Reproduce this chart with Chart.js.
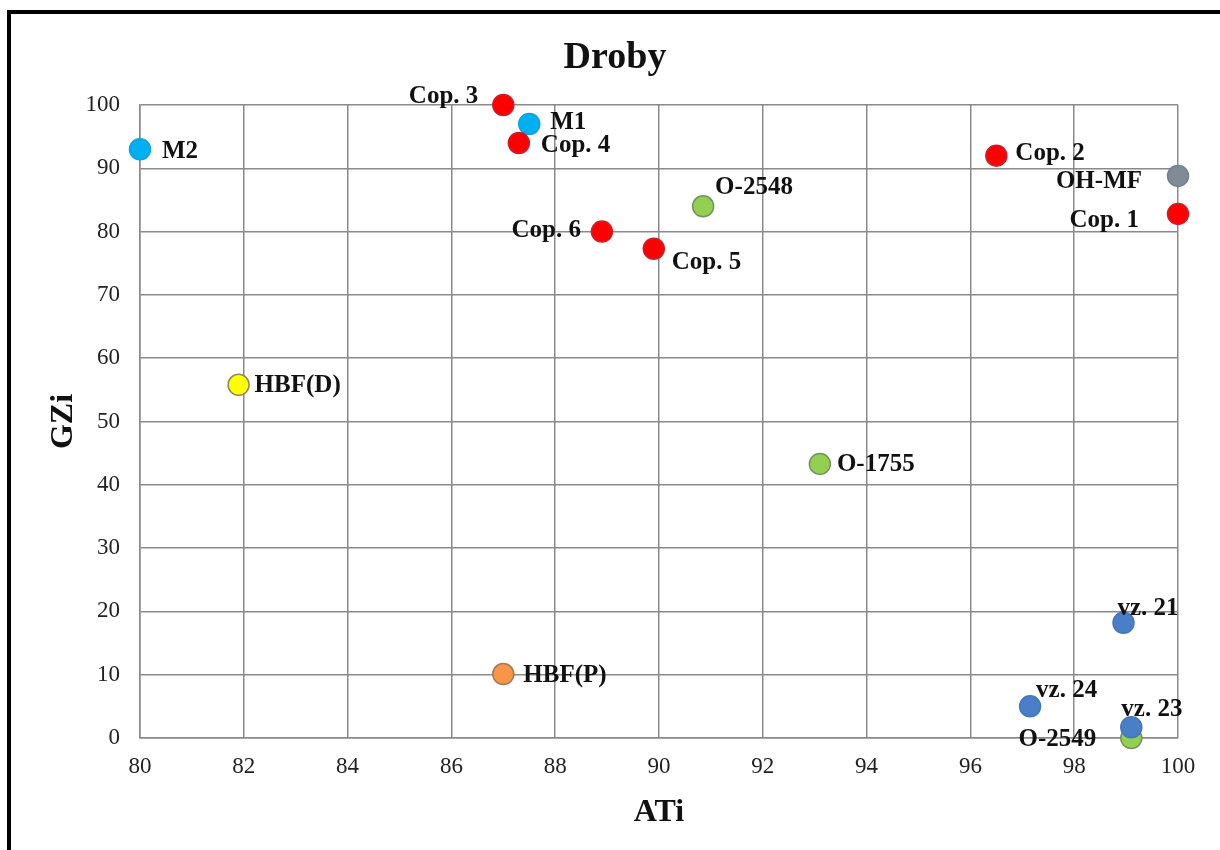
<!DOCTYPE html>
<html>
<head>
<meta charset="utf-8">
<script src="https://cdn.jsdelivr.net/npm/chart.js@4/dist/chart.umd.min.js"></script>
<style>
  html, body { margin: 0; padding: 0; background: #fff; }
  #wrap { position: relative; width: 1220px; height: 850px; overflow: hidden; }
  #frame {
    position: absolute; left: 7px; top: 10px; right: -20px; bottom: -20px;
    border-left: 4px solid #000; border-top: 4px solid #000;
    pointer-events: none;
  }
  canvas { display: block; }
</style>
</head>
<body>
<div id="wrap">
  <canvas id="chart" width="1220" height="850"></canvas>
  <div id="frame"></div>
</div>
<script>
// Samples: ATi (x) and GZi (y) indices
const sampleNames = ['M2', 'Cop. 3', 'M1', 'Cop. 4', 'O-2548', 'Cop. 6', 'Cop. 5', 'Cop. 2',
  'OH-MF', 'Cop. 1', 'HBF(D)', 'O-1755', 'vz. 21', 'HBF(P)', 'vz. 24', 'O-2549', 'vz. 23'];
const atiValues = [80.0, 87.0, 87.5, 87.3, 90.85, 88.9, 89.9, 96.5,
  100.0, 100.0, 81.9, 93.1, 98.95, 87.0, 97.15, 99.1, 99.1];
const gziValues = [93.0, 100.0, 97.0, 94.0, 84.0, 80.0, 77.3, 92.0,
  88.8, 82.8, 55.8, 43.3, 18.2, 10.1, 5.0, 0.0, 1.7];
const sampleGroups = ['sky', 'red', 'sky', 'red', 'green', 'red', 'red', 'red',
  'gray', 'red', 'yellow', 'green', 'blue', 'orange', 'blue', 'green', 'blue'];

const xTickValues = [80, 82, 84, 86, 88, 90, 92, 94, 96, 98, 100];
const yTickValues = [0, 10, 20, 30, 40, 50, 60, 70, 80, 90, 100];

// Marker colours per group
const groupFill = {
  red: '#ff0000', sky: '#00b0f0', green: '#92d050', gray: '#7f8b97',
  blue: '#4a7fc8', yellow: '#ffff00', orange: '#f79646'
};
const groupBorder = {
  red: '#c8202a', sky: '#10a2dc', green: '#7a8f66', gray: '#76808c',
  blue: '#4476bc', yellow: '#8c8c5a', orange: '#a57a5c'
};

// Label placement next to each marker: [dx, dy, align]
const labelPlacement = [
  [22, 2, 'left'], [-25, -8, 'right'], [21, -1, 'left'], [22, 3, 'left'],
  [12, -19, 'left'], [-21, -1, 'right'], [18, 14, 'left'], [19, -2, 'left'],
  [-36, 6, 'right'], [-39, 7, 'right'], [16, 1, 'left'], [17, 1, 'left'],
  [-6, -14, 'left'], [20, 1, 'left'], [6, -16, 'left'], [-35, 2, 'right'],
  [-10, -18, 'left']
];

const SERIF = '"Liberation Serif", "Times New Roman", serif';

const pointLabels = {
  id: 'pointLabels',
  afterDatasetsDraw(chart) {
    const ctx = chart.ctx;
    const meta = chart.getDatasetMeta(0);
    ctx.save();
    ctx.font = 'bold 25px ' + SERIF;
    ctx.fillStyle = '#111';
    ctx.textBaseline = 'middle';
    meta.data.forEach((pt, i) => {
      const [dx, dy, align] = labelPlacement[i];
      ctx.textAlign = align;
      ctx.fillText(sampleNames[i], pt.x + dx, pt.y + dy);
    });
    ctx.restore();
  }
};

const points = atiValues.map((x, i) => ({ x, y: gziValues[i] }));

new Chart(document.getElementById('chart'), {
  type: 'scatter',
  data: {
    datasets: [{
      data: points,
      backgroundColor: sampleGroups.map(g => groupFill[g]),
      borderColor: sampleGroups.map(g => groupBorder[g]),
      borderWidth: 1.5,
      pointRadius: 10.5,
      pointHoverRadius: 10.5,
      clip: false
    }]
  },
  options: {
    responsive: false,
    animation: false,
    devicePixelRatio: 1,
    layout: { padding: { left: 52, right: 42, top: 0, bottom: 0 }, autoPadding: false },
    plugins: {
      legend: { display: false },
      tooltip: { enabled: false },
      title: {
        display: true,
        text: 'Droby',
        color: '#111',
        font: { family: SERIF, size: 38, weight: 'bold', lineHeight: 1.2 },
        padding: { top: 35, bottom: 24.4 }
      }
    },
    scales: {
      x: {
        type: 'linear',
        min: xTickValues[0],
        max: xTickValues[xTickValues.length - 1],
        afterBuildTicks: s => { s.ticks = xTickValues.map(v => ({ value: v })); },
        afterFit: s => { s.height = 112; },
        grid: { color: '#8a8a8a', lineWidth: 1.5, drawTicks: false },
        border: { color: '#8a8a8a', width: 1.5 },
        ticks: { color: '#222', padding: 15, font: { family: SERIF, size: 23 }, maxRotation: 0 },
        title: {
          display: true, text: 'ATi', color: '#111',
          font: { family: SERIF, size: 32, weight: 'bold', lineHeight: 1 },
          padding: { top: 0, bottom: 21 }
        }
      },
      y: {
        type: 'linear',
        min: yTickValues[0],
        max: yTickValues[yTickValues.length - 1],
        afterBuildTicks: s => { s.ticks = yTickValues.map(v => ({ value: v })); },
        afterFit: s => { s.width = 88; },
        grid: { color: '#8a8a8a', lineWidth: 1.5, drawTicks: false },
        border: { color: '#8a8a8a', width: 1.5 },
        ticks: { color: '#222', padding: 20, font: { family: SERIF, size: 23 } },
        title: {
          display: true, text: 'GZi', color: '#111',
          font: { family: SERIF, size: 32, weight: 'bold', lineHeight: 1 },
          padding: { top: -4, bottom: 0 }
        }
      }
    }
  },
  plugins: [pointLabels]
});
</script>
</body>
</html>
